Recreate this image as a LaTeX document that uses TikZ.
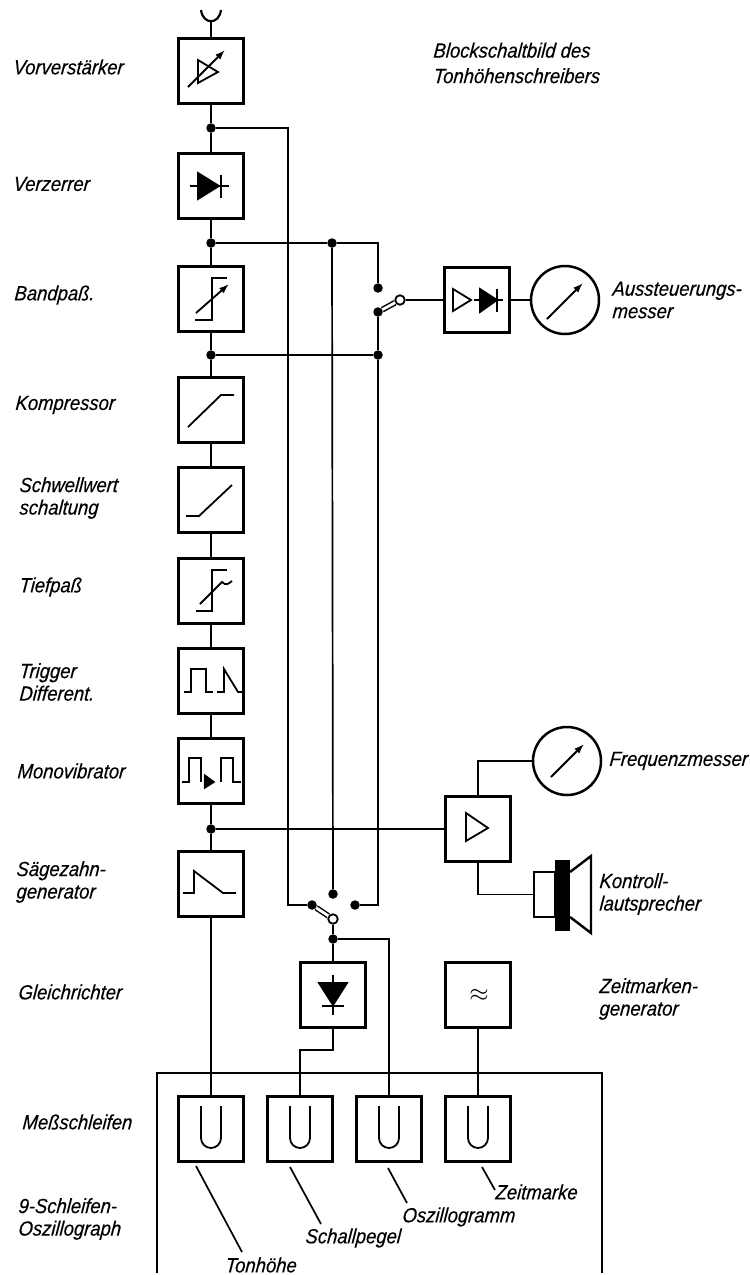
\documentclass[tikz,border=0pt]{standalone}
\usepackage{fontspec}
\setmainfont{Liberation Sans}[FakeStretch=0.9, ItalicFeatures={FakeBold=0.25, FakeSlant=0.08}]
\usetikzlibrary{arrows.meta}

\tikzset{
  block/.style={draw, line width=2.9pt, minimum size=65pt, inner sep=0pt},
  wire/.style={line width=1.7pt},
  sym/.style={line width=1.8pt},
  dot/.style={circle, fill=black, minimum size=9.5pt, inner sep=0pt},
  ring/.style={circle, draw, fill=white, line width=1.8pt, minimum size=9.5pt, inner sep=0pt},
  blade/.style={line width=1.5pt, double, double distance=2.8pt},
  meter/.style={circle, draw, line width=2.5pt, minimum size=68pt, inner sep=0pt},
  tip/.style={-{Latex[length=10pt,width=7pt]}, line width=1.8pt},
  lbl/.style={anchor=west, align=left, inner sep=0pt, font=\fontsize{20.5}{22.5}\selectfont\itshape}
}

\begin{document}
\begin{tikzpicture}[x=1pt, y=-1pt]
  \useasboundingbox (0,0) rectangle (750,1275);

  \node[block] (vor) at (211, 71) {};
  \node[block] (verz) at (211, 186) {};
  \node[block] (band) at (211, 299) {};
  \node[block] (komp) at (211, 410) {};
  \node[block] (schw) at (211, 500) {};
  \node[block] (tief) at (211, 591) {};
  \node[block] (trig) at (211, 681) {};
  \node[block] (mono) at (211, 771) {};
  \node[block] (saeg) at (211, 884) {};
  \node[block] (glei) at (333, 995) {};
  \node[block] (zeit) at (478, 995) {};
  \node[block] (ausv) at (477, 300) {};
  \node[block] (verst) at (478, 829) {};
  \node[block] (loa) at (211, 1129) {};
  \node[block] (lob) at (300, 1129) {};
  \node[block] (loc) at (389, 1129) {};
  \node[block] (lod) at (478, 1129) {};
  \node[meter] (aus) at (565, 300) {};
  \node[meter] (freq) at (567, 761) {};
  \node[draw, line width=2.4pt, minimum width=21pt, minimum height=45pt, inner sep=0pt] (spk) at (544.5, 894.5) {};

  \node[dot] (jvor) at (211, 128) {};
  \node[dot] (jverz) at (211, 243) {};
  \node[dot] (jmit) at (332, 243) {};
  \node[dot] (jband) at (211, 355) {};
  \node[dot] (jrecht) at (378, 355) {};
  \node[dot] (jmono) at (211, 829) {};
  \node[dot] (jglei) at (333, 939) {};
  \node[dot] (ka) at (378, 288) {};
  \node[dot] (kb) at (378, 312) {};
  \node[ring] (pa) at (400, 300) {};
  \node[dot] (kc) at (312, 905) {};
  \node[dot] (kd) at (333, 894) {};
  \node[dot] (ke) at (355, 905) {};
  \node[ring] (pb) at (333, 919) {};

  \coordinate (ant) at (211, 21);
  \coordinate (eton) at (288, 905);
  \coordinate (erecht) at (378, 905);
  \coordinate (eglei) at (300, 1050);

  \draw[wire] (ant) -- (vor);
  \draw[wire] (vor) -- (jvor) -- (verz);
  \draw[wire] (verz) -- (jverz) -- (band);
  \draw[wire] (band) -- (jband) -- (komp);
  \draw[wire] (komp) -- (schw);
  \draw[wire] (schw) -- (tief);
  \draw[wire] (tief) -- (trig);
  \draw[wire] (trig) -- (mono);
  \draw[wire] (mono) -- (jmono) -- (saeg);
  \draw[wire] (saeg) -- (loa);
  \draw[wire] (jvor) -| (eton) -- (kc);
  \draw[wire] (jverz) -- (jmit) -| (ka);
  \draw[wire] (jmit) -- (kd);
  \draw[wire] (jband) -- (jrecht);
  \draw[wire] (kb) -- (jrecht) -- (erecht) -- (ke);
  \draw[wire] (pa) -- (ausv);
  \draw[wire] (ausv) -- (aus);
  \draw[wire] (jmono) -- (verst);
  \draw[wire] (verst) |- (freq);
  \draw[wire] (verst) |- (spk);
  \draw[wire] (pb) -- (jglei) -- (glei);
  \draw[wire] (jglei) -| (loc);
  \draw[wire] (glei) |- (eglei) -- (lob);
  \draw[wire] (zeit) -- (lod);
  \draw[blade] (kb) -- (pa);
  \draw[blade] (kc) -- (pb);

  \draw[wire, line width=2.2pt] (201, 10) .. controls (203, 25) and (219, 25) .. (221, 10);
  \draw[line width=2.6pt] (157, 1273) -- (157, 1073) -- (602, 1073) -- (602, 1273);

  \draw[sym] (198, 60) -- (218, 72) -- (198, 83) -- cycle;
  \draw[tip] (188, 87) -- (225, 50);
  \draw[sym, fill=black] (198, 173) -- (219, 186) -- (198, 199) -- cycle;
  \draw[sym] (190, 186) -- (229, 186);
  \draw[sym] (221, 175) -- (221, 198);
  \draw[sym] (195, 320) -- (212, 320) -- (212, 278) -- (227, 278);
  \draw[tip] (196, 313) -- (229, 284);
  \draw[sym] (188, 427) -- (221, 395) -- (234, 395);
  \draw[sym] (186, 516) -- (199, 516) -- (232, 485);
  \draw[sym] (196, 611) -- (212, 611) -- (212, 570) -- (227, 570);
  \draw[sym] (200, 604) -- (222, 582) .. controls (226, 586) and (228, 584) .. (232, 581);
  \draw[sym] (184, 692) -- (191, 692) -- (191, 669) -- (206, 669) -- (206, 692) -- (213, 692);
  \draw[sym] (217, 692) -- (224, 692) -- (224, 669) -- (238, 692) -- (245, 692);
  \draw[sym] (182, 782) -- (189, 782) -- (189, 758) -- (201, 758) -- (201, 782);
  \draw[fill=black] (204, 774) -- (215, 782) -- (204, 789) -- cycle;
  \draw[sym] (221, 782) -- (221, 758) -- (233, 758) -- (233, 782) -- (241, 782);
  \draw[sym] (183, 893) -- (194, 893) -- (194, 871) -- (223, 893) -- (236, 893);
  \draw[sym, fill=black] (319, 983) -- (347, 983) -- (333, 1005) -- cycle;
  \draw[sym] (333, 975) -- (333, 1015);
  \draw[sym] (322, 1006) -- (344, 1006);
  \draw[sym] (453, 289) -- (471, 300) -- (453, 311) -- cycle;
  \draw[sym, fill=black] (480, 289) -- (497, 300) -- (480, 312) -- cycle;
  \draw[sym] (474, 300) -- (503, 300);
  \draw[sym] (497, 289) -- (497, 312);
  \draw[sym] (466, 813) -- (488, 828) -- (466, 841) -- cycle;
  \node (approx) at (479, 995) {\fontsize{26}{26}\selectfont$\approx$};
  \draw[tip] (547, 319) -- (583, 283);
  \draw[tip] (551, 777) -- (584, 744);
  \fill (555, 860) rectangle (570, 931);
  \draw[line width=2.4pt] (570, 872) -- (591, 856) -- (591, 933) -- (570, 917);

  \foreach \x in {211, 300, 389, 478} {
    \draw[sym] (\x-10, 1106) -- (\x-10, 1138) arc (180:360:10pt) -- (\x+10, 1106);
  }

  \coordinate (ltona) at (196, 1166);
  \coordinate (ltonb) at (242, 1252);
  \coordinate (lscha) at (290, 1167);
  \coordinate (lschb) at (321, 1224);
  \coordinate (losza) at (388, 1168);
  \coordinate (loszb) at (407, 1203);
  \coordinate (lzeia) at (482, 1167);
  \coordinate (lzeib) at (495, 1190);
  \draw[wire] (ltona) -- (ltonb);
  \draw[wire] (lscha) -- (lschb);
  \draw[wire] (losza) -- (loszb);
  \draw[wire] (lzeia) -- (lzeib);

  \node[lbl] (tvor) at (13, 67) {Vorverstärker};
  \node[lbl] (tverz) at (13, 184) {Verzerrer};
  \node[lbl] (tband) at (14, 295) {Bandpaß.};
  \node[lbl] (tkomp) at (15, 405) {Kompressor};
  \node[lbl] (tschw) at (19, 498) {Schwellwert\\schaltung};
  \node[lbl] (ttief) at (19, 587) {Tiefpaß};
  \node[lbl] (ttrig) at (19, 682) {Trigger\\Different.};
  \node[lbl] (tmono) at (17, 771) {Monovibrator};
  \node[lbl] (tsaeg) at (16, 882) {Sägezahn-\\generator};
  \node[lbl] (tglei) at (18, 992) {Gleichrichter};
  \node[lbl] (tmess) at (22, 1122) {Meßschleifen};
  \node[lbl] (tosz) at (18, 1219) {9-Schleifen-\\Oszillograph};
  \node[lbl] (ttitel) at (433, 63) {Blockschaltbild des\\[3pt]Tonhöhenschreibers};
  \node[lbl] (taus) at (612, 300) {Aussteuerungs-\\messer};
  \node[lbl] (tfreq) at (609, 761) {Frequenzmesser};
  \node[lbl] (tkon) at (599, 894) {Kontroll-\\lautsprecher};
  \node[lbl] (tzeit) at (599, 999) {Zeitmarken-\\generator};
  \node[lbl] (tzm) at (495, 1192) {Zeitmarke};
  \node[lbl] (tos) at (402, 1217) {Oszillogramm};
  \node[lbl] (tsp) at (305, 1238) {Schallpegel};
  \node[lbl] (tth) at (225, 1265) {Tonhöhe};
\end{tikzpicture}
\end{document}
